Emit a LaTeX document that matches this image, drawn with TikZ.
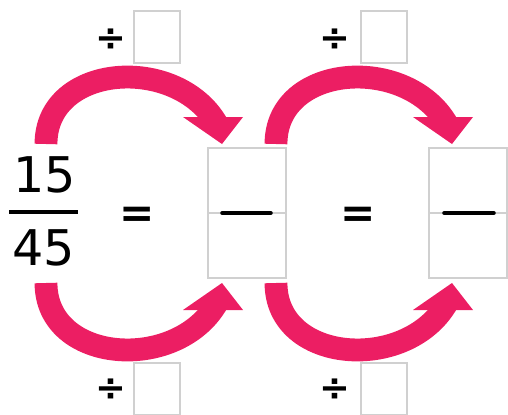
\documentclass[tikz,border=0pt]{standalone}
\usepackage{fontspec}
\setmainfont{DejaVu Sans}
\definecolor{hoppink}{RGB}{236,30,99}
\definecolor{boxgray}{RGB}{208,208,208}

\begin{document}
\begin{tikzpicture}[
        x=0.02cm,y=0.02cm,
        digit/.style={inner sep=0pt,font=\fontsize{28}{28}\selectfont},
        eqsign/.style={inner sep=0pt,font=\fontsize{24}{24}\selectfont\bfseries},
        divsign/.style={inner sep=0pt,font=\fontsize{21}{21}\selectfont\bfseries},
        divbox/.style={draw=boxgray,line width=0.9pt,minimum width=0.92cm,minimum height=1.04cm,inner sep=0pt},
        ansbox/.style={draw=boxgray,line width=0.9pt,minimum width=1.56cm,minimum height=2.6cm,inner sep=0pt},
        midline/.style={boxgray,line width=1.1pt},
        fracbar/.style={line width=2.4pt},
        ansbar/.style={line width=2pt,line cap=round},
        hop/.style={hoppink,line width=13pt,looseness=1.2},
        hophead/.style={fill=hoppink}
    ]
        \useasboundingbox (0,0) rectangle (508,414);

        \node[digit] (num) at (45,239) {15};
        \node[digit] (den) at (44,166) {45};
        \draw[fracbar] (9,202) -- (78,202);

        \node[eqsign] (eqa) at (137,197) {=};
        \node[ansbox] (boxa) at (247,201) {};
        \draw[midline] (boxa.west) -- (boxa.east);
        \draw[ansbar] (222,201) -- (271,201);

        \node[eqsign] (eqb) at (358,197) {=};
        \node[ansbox] (boxb) at (468,201) {};
        \draw[midline] (boxb.west) -- (boxb.east);
        \draw[ansbar] (444,201) -- (494,201);

        \node[divsign] (divtl) at (111,374) {÷};
        \node[divbox] (boxtl) at (157,377) {};
        \node[divsign] (divtr) at (335,374) {÷};
        \node[divbox] (boxtr) at (384,377) {};
        \node[divsign] (divbl) at (111,24) {÷};
        \node[divbox] (boxbl) at (157,25) {};
        \node[divsign] (divbr) at (335,24) {÷};
        \node[divbox] (boxbr) at (384,25) {};

        % upper arrows
        \coordinate (upa) at (46,270);
        \coordinate (necka) at (217,290);
        \coordinate (tipa) at (222,270);
        \coordinate (upb) at (276,270);
        \coordinate (neckb) at (447,290);
        \coordinate (tipb) at (452,270);
        \draw[hop] (upa) to[out=90,in=120] (necka);
        \fill[hophead] (183,297) -- (243,297) -- (tipa) -- cycle;
        \draw[hop] (upb) to[out=90,in=120] (neckb);
        \fill[hophead] (413,297) -- (473,297) -- (tipb) -- cycle;

        % lower arrows
        \coordinate (loa) at (46,131);
        \coordinate (lonecka) at (217,111);
        \coordinate (lotipa) at (222,131);
        \coordinate (lob) at (276,131);
        \coordinate (loneckb) at (447,111);
        \coordinate (lotipb) at (452,131);
        \draw[hop] (loa) to[out=-90,in=-120] (lonecka);
        \fill[hophead] (183,104) -- (243,104) -- (lotipa) -- cycle;
        \draw[hop] (lob) to[out=-90,in=-120] (loneckb);
        \fill[hophead] (413,104) -- (473,104) -- (lotipb) -- cycle;
    \end{tikzpicture}
\end{document}
